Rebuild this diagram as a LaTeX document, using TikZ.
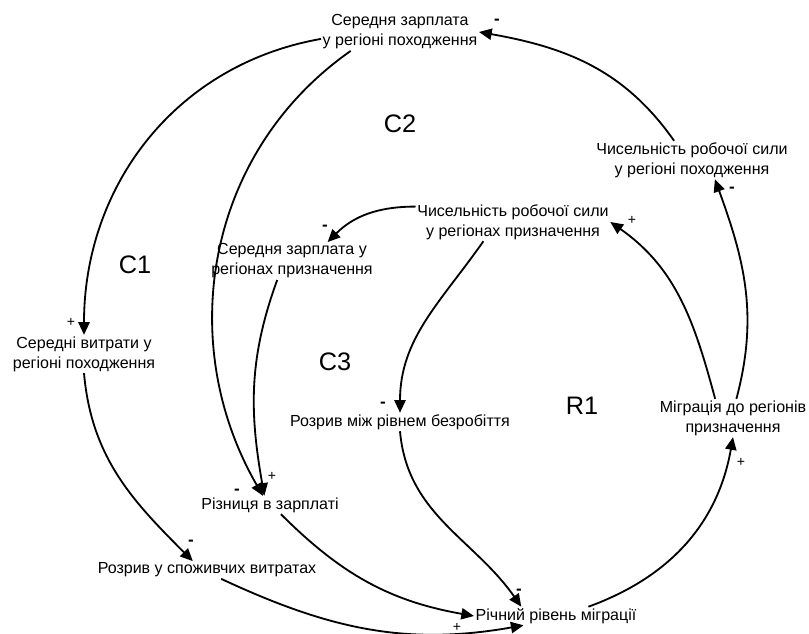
\documentclass[tikz,border=0pt]{standalone}
\usepackage{fontspec}
\setmainfont{Liberation Sans}
\usetikzlibrary{arrows.meta}

\begin{document}
\begin{tikzpicture}[
    x=0.025cm, y=0.025cm,
    factor/.style={align=center, inner sep=1pt, font=\fontsize{11.4}{14.2}\selectfont},
    loopname/.style={inner sep=0pt, font=\fontsize{18}{20}\selectfont},
    possign/.style={inner sep=0pt, font=\fontsize{10}{10}\selectfont},
    negsign/.style={inner sep=0pt, font=\fontsize{12}{12}\selectfont\bfseries},
    link/.style={-{Triangle[length=9pt, width=8pt]}, line width=1.3pt}
]
\useasboundingbox (0,0) rectangle (809,633);
% Factors
\node[factor] (wageorig) at (400,601) {Середня зарплата\\у регіоні походження};
\node[factor] (laborig) at (692,473) {Чисельність робочої сили\\у регіоні походження};
\node[factor] (labdest) at (513,411) {Чисельність робочої сили\\у регіонах призначення};
\node[factor] (wagedest) at (292,372) {Середня зарплата у\\регіонах призначення};
\node[factor] (costorig) at (84,279) {Середні витрати у\\регіоні походження};
\node[factor] (unempgap) at (400,211) {Розрив між рівнем безробіття};
\node[factor] (migdest) at (733,215) {Міграція до регіонів\\призначення};
\node[factor] (wagegap) at (270,128) {Різниця в зарплаті};
\node[factor] (costgap) at (207,63) {Розрив у споживчих витратах};
\node[factor] (migrate) at (556,17) {Річний рівень міграції};
% Loop names
\node[loopname] (loopc2) at (400,509) {C2};
\node[loopname] (loopc1) at (135,368) {C1};
\node[loopname] (loopc3) at (335,271) {C3};
\node[loopname] (loopr1) at (582,227) {R1};
% Links
\draw[link] (wageorig.185) to[out=190, in=90] (costorig.north);
\draw[link] (wageorig.201) to[out=215, in=120] ([xshift=-5pt]wagegap.north);
\draw[link] (wagedest.232) to[out=250, in=100] ([xshift=-4pt]wagegap.north);
\draw[link] (labdest.171) to[out=180, in=45] (wagedest.28);
\draw[link] (labdest.213) to[out=235, in=90] (unempgap.north);
\draw[link] (migdest.133) to[out=105, in=-35] (labdest.east);
\draw[link] (migdest.80) to[out=75, in=-70] (laborig.320);
\draw[link] (laborig.133) to[out=125, in=-10] (wageorig.east);
\draw[link] (costorig.south) to[out=-85, in=135] (costgap.148);
\draw[link] (wagegap.320) to[out=-45, in=170] (migrate.west);
\draw[link] (costgap.328) to[out=-25, in=190] (migrate.196);
\draw[link] (unempgap.south) to[out=-85, in=125] (migrate.165);
\draw[link] (migrate.16) to[out=20, in=-100] (migdest.south);
% Polarity marks
\node[possign] (signae) at (71,311) {+};
\node[negsign] (signah) at (237,141) {-};
\node[possign] (signdh) at (272,157) {+};
\node[negsign] (signcd) at (325,405) {-};
\node[negsign] (signcf) at (383,228) {-};
\node[possign] (signgc) at (632,413) {+};
\node[negsign] (signgb) at (732,443) {-};
\node[negsign] (signba) at (497,611) {-};
\node[negsign] (signei) at (191,90) {-};
\node[possign] (signij) at (457,6) {+};
\node[negsign] (signfj) at (519,41) {-};
\node[possign] (signjg) at (741,171) {+};
\end{tikzpicture}
\end{document}
